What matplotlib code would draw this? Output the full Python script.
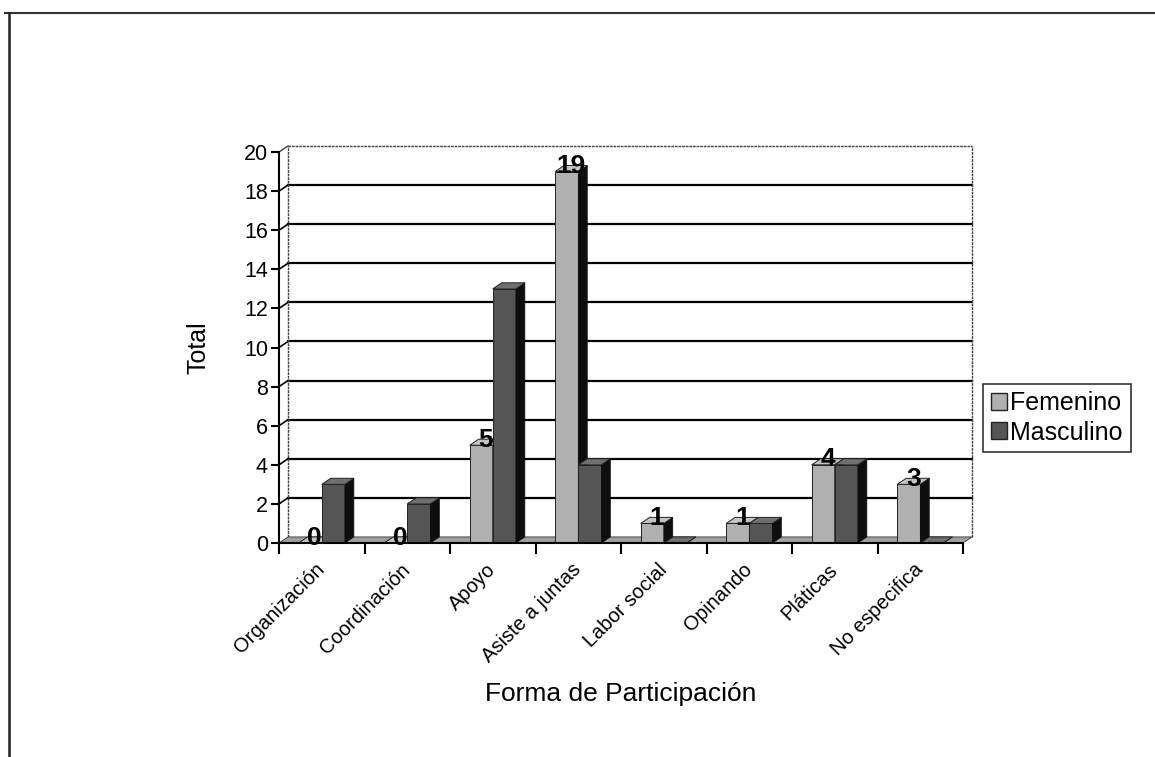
import matplotlib.pyplot as plt
from matplotlib.patches import Polygon, Patch
from matplotlib.lines import Line2D
import numpy as np

plt.rcParams['font.family'] = ['Liberation Sans', 'DejaVu Sans']

# ---------------------------
# Datos
# ---------------------------
categorias = ['Organización', 'Coordinación', 'Apoyo', 'Asiste a juntas',
              'Labor social', 'Opinando', 'Pláticas', 'No especifica']
femenino = [0, 0, 5, 19, 1, 1, 4, 3]
masculino = [3, 2, 13, 4, 0, 1, 4, 0]
y_ticks = list(range(0, 21, 2))

# Estilo
COLOR_FEM = '#b0b0b0'
COLOR_FEM_TOP = '#c4c4c4'
COLOR_MAS = '#555555'
COLOR_MAS_TOP = '#707070'
COLOR_LADO = '#0e0e0e'
ANCHO = 0.27
DX, DY = 0.105, 0.31   # profundidad del efecto 3D (unidades de datos)


def barra_3d(ax, x, h, color, color_top):
    # cara frontal + lateral + superior
    ax.bar(x, h, width=ANCHO, color=color, edgecolor='#222222', linewidth=0.7, zorder=3)
    x0, x1 = x - ANCHO / 2, x + ANCHO / 2
    lado = [(x1, 0), (x1 + DX, DY), (x1 + DX, h + DY), (x1, h)]
    ax.add_patch(Polygon(lado, closed=True, facecolor=COLOR_LADO,
                         edgecolor=COLOR_LADO, lw=0.5, zorder=3, clip_on=False))
    tapa = [(x0, h), (x1, h), (x1 + DX, h + DY), (x0 + DX, h + DY)]
    ax.add_patch(Polygon(tapa, closed=True, facecolor=color_top,
                         edgecolor='#222222', lw=0.7, zorder=3, clip_on=False))


fig = plt.figure(figsize=(11.55, 7.57), dpi=100)
ax = fig.add_axes([0.2416, 0.2827, 0.5922, 0.5165])
n = len(categorias)
ax.set_xlim(0, n)
ax.set_ylim(0, 20)

# pared del fondo y rejilla
for y in y_ticks[1:-1]:
    ax.plot([DX, n + DX], [y + DY, y + DY], color='black', lw=1.6, zorder=1, clip_on=False)
    ax.plot([0, DX], [y, y + DY], color='black', lw=1.2, zorder=1, clip_on=False)
ax.plot([DX, n + DX], [20 + DY, 20 + DY], color='#444444', lw=1, ls=(0, (2, 0.6)), zorder=1, clip_on=False)
ax.plot([n + DX, n + DX], [DY, 20 + DY], color='#444444', lw=1, ls=(0, (2, 0.6)), zorder=1, clip_on=False)
ax.plot([DX, DX], [DY, 20 + DY], color='#444444', lw=1, ls=(0, (2, 0.6)), zorder=1, clip_on=False)
ax.plot([0, DX], [20, 20 + DY], color='#444444', lw=1, zorder=1, clip_on=False)

# piso
piso = [(0, 0), (n, 0), (n + DX, DY), (DX, DY)]
ax.add_patch(Polygon(piso, closed=True, facecolor='#a0a0a0', edgecolor='#333333',
                     lw=0.6, zorder=2, clip_on=False))

centros = np.arange(n) + 0.5
for i in range(n):
    barra_3d(ax, centros[i] - ANCHO / 2, femenino[i], COLOR_FEM, COLOR_FEM_TOP)
    barra_3d(ax, centros[i] + ANCHO / 2, masculino[i], COLOR_MAS, COLOR_MAS_TOP)

# etiquetas de valor (solo Femenino)
for i in range(n):
    ax.text(centros[i] - ANCHO / 2 + DX / 2, femenino[i] + DY * 0.9, str(femenino[i]),
            ha='center', va='center', fontsize=19, fontweight='bold', zorder=5)

# ejes
for s in ['top', 'right']:
    ax.spines[s].set_visible(False)
ax.spines['left'].set_linewidth(1.5)
ax.spines['bottom'].set_linewidth(1.5)
ax.spines['left'].set_zorder(4)
ax.spines['bottom'].set_zorder(4)
ax.set_yticks(y_ticks)
ax.tick_params(axis='y', direction='out', length=6, width=1.5, labelsize=15.5, pad=2)
ax.set_xticks(centros)
ax.set_xticklabels(categorias, rotation=45, ha='right', va='center',
                   rotation_mode='anchor', fontsize=14.5)
ax.tick_params(axis='x', which='major', length=0, pad=17)
ax.set_xticks(np.arange(n + 1), minor=True)
ax.tick_params(axis='x', which='minor', direction='out', length=8, width=1.5)

ax.set_ylabel('Total', fontsize=18)
ax.yaxis.set_label_coords(-0.1, 0.5)
ax.set_xlabel('Forma de Participación', fontsize=19)
ax.xaxis.set_label_coords(0.5, -0.355)

# leyenda
handles = [Patch(facecolor=COLOR_FEM, edgecolor='#222222'),
           Patch(facecolor=COLOR_MAS, edgecolor='#222222')]
leg = fig.legend(handles, ['Femenino', 'Masculino'], loc='center left',
                 bbox_to_anchor=(983 / 1155, 1 - 418 / 757), fontsize=18,
                 frameon=True, fancybox=False, shadow=False, handlelength=0.65,
                 handleheight=0.65, handletextpad=0.15, borderpad=0.3,
                 labelspacing=0.2, borderaxespad=0)
leg.get_frame().set_edgecolor('black')
leg.get_frame().set_linewidth(1.2)

# marco de la página
fig.add_artist(Line2D([5 / 1155, 1], [1 - 13 / 757, 1 - 13 / 757],
                      transform=fig.transFigure, color='#333333', lw=1.5))
fig.add_artist(Line2D([9 / 1155, 9 / 1155], [0, 1 - 13 / 757],
                      transform=fig.transFigure, color='#222222', lw=1.8))

fig.savefig('out.png', dpi=100)
